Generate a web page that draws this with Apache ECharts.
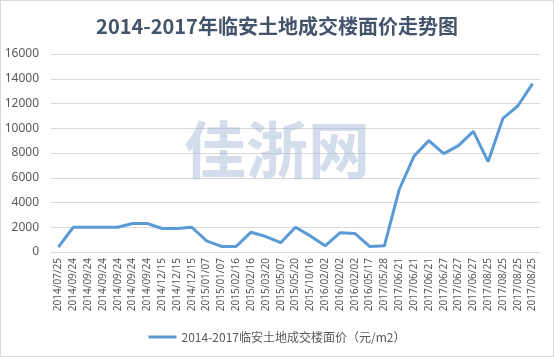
<!DOCTYPE html>
<html><head><meta charset="utf-8">
<script src="https://cdn.jsdelivr.net/npm/echarts@6/dist/echarts.min.js"></script>
<style>
html,body{margin:0;padding:0;background:#fff;}
#c{width:552px;height:355px;border:1px solid #D9D9D9;}
</style></head>
<body><div id="c"></div>
<script>
const titleText = '2014-2017年临安土地成交楼面价走势图';
const seriesName = '2014-2017临安土地成交楼面价（元/m2）';
const watermark = '佳浙网';
const categories = [
 '2014/07/25','2014/09/24','2014/09/24','2014/09/24','2014/09/24','2014/09/24','2014/09/24',
 '2014/12/15','2014/12/15','2014/12/15','2015/01/07','2015/01/07','2015/02/16','2015/02/16',
 '2015/03/20','2015/05/07','2015/05/20','2015/10/16','2016/02/02','2016/02/02','2016/02/02',
 '2016/05/17','2017/05/28','2017/06/21','2017/06/21','2017/06/21','2017/06/27','2017/06/27',
 '2017/06/27','2017/08/25','2017/08/25','2017/08/25','2017/08/25'
];
const values = [
 400,2000,2000,2000,2000,2300,2300,
 1900,1900,2000,900,450,450,1600,
 1250,750,2000,1300,500,1550,1500,
 450,500,5050,7750,9000,7950,8600,
 9750,7300,10800,11800,13600
];
const yTicks = {min:0, max:16000, interval:2000};

const chart = echarts.init(document.getElementById('c'), null, {renderer:'canvas'});
chart.setOption({
  animation:false,
  backgroundColor:'#fff',
  title:{text:titleText,left:'center',top:10,
    textStyle:{fontFamily:'"Noto Sans CJK SC", sans-serif',fontSize:20,fontWeight:'bold',color:'#44546A'}},
  graphic:[{type:'text',left:'center',top:118,z:100,silent:true,
    style:{text:watermark,font:'bold 62px "Noto Sans CJK SC"',fill:'rgba(160,180,210,0.45)'}}],
  legend:{bottom:8,left:'center',itemWidth:28,itemHeight:3,icon:'rect',
    textStyle:{fontFamily:'"Noto Sans CJK SC", sans-serif',fontSize:12,color:'#595959'},
    data:[seriesName]},
  grid:{left:50,right:13,top:53,bottom:104,containLabel:false},
  xAxis:{type:'category',data:categories,boundaryGap:true,
    axisLine:{lineStyle:{color:'#D9D9D9'}},axisTick:{show:false},
    axisLabel:{rotate:90,interval:0,fontSize:10,color:'#595959',fontFamily:'"Noto Sans", sans-serif',margin:6}},
  yAxis:{type:'value',min:yTicks.min,max:yTicks.max,interval:yTicks.interval,
    axisLine:{show:false},axisTick:{show:false},
    splitLine:{lineStyle:{color:'#D9D9D9'}},
    axisLabel:{fontSize:12,color:'#595959',fontFamily:'"Noto Sans", sans-serif',margin:12,
      formatter:function(v){return String(v);}}},
  series:[{name:seriesName,type:'line',data:values,symbol:'none',z:2,
    lineStyle:{color:'#5B9BD5',width:3},itemStyle:{color:'#5B9BD5'}}]
});
</script></body></html>
